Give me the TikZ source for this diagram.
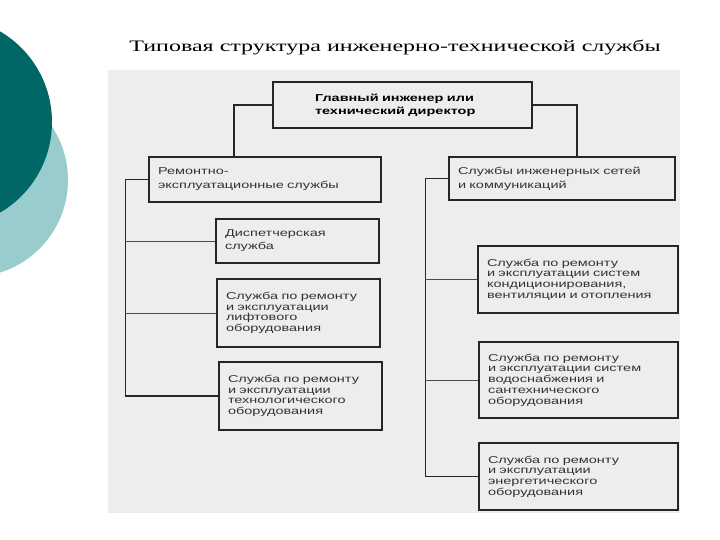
\documentclass[tikz,border=0pt]{standalone}
\usepackage{fontspec}
\setmainfont{Liberation Serif}
\newfontfamily\titlefont[FakeStretch=1.5]{Liberation Serif}
\newfontfamily\unitfont[FakeStretch=1.45]{Liberation Sans}
\usepackage{xcolor}
\usetikzlibrary{positioning}
\definecolor{darkteal}{RGB}{0,102,102}
\definecolor{lightteal}{RGB}{153,204,204}
\definecolor{scan}{RGB}{237,237,237}

\begin{document}
\begin{tikzpicture}[x=1pt, y=-1pt,
  every node/.style={inner sep=0pt},
  unit/.style={draw=black!85, line width=1.5pt, fill=scan, inner xsep=9pt, align=left,
    font=\unitfont\fontsize{10}{10.7}\selectfont, text=black!80},
  wide/.style={font=\unitfont\fontsize{10}{14}\selectfont},
  link/.style={line width=1.5pt, black!85},
  stub/.style={line width=0.8pt, black!70}]
  \useasboundingbox (0,0) rectangle (720,540);
  \clip (0,0) rectangle (720,540);
  % circles on the left
  \fill[lightteal] (-29,180) circle[radius=97pt];
  \fill[darkteal] (-53,122) circle[radius=105pt];
  % scanned page
  \fill[scan] (108,70) rectangle (680,513);
  \node (title) at (395,48) {\titlefont\fontsize{16}{19}\selectfont Типовая структура инженерно-технической службы};

  \node[unit, font=\unitfont\bfseries\fontsize{10}{13}\selectfont, text=black, inner xsep=42pt, text width=175pt, minimum width=259pt, minimum height=46pt] (chief) at (402.5,105) {Главный инженер или\\технический директор};
  \node[unit, wide, text width=214pt, minimum width=232pt, minimum height=45pt] (rem) at (265,179.5) {Ремонтно-\\эксплуатационные службы};
  \node[unit, wide, text width=208pt, minimum width=226pt, minimum height=43pt] (net) at (562,178.5) {Службы инженерных сетей\\и коммуникаций};

  \node[unit, font=\unitfont\fontsize{10}{13}\selectfont, text width=145pt, minimum width=163pt, minimum height=44pt] (disp) at (297.5,241) {Диспетчерская\\служба};
  \node[unit, text width=145pt, minimum width=163pt, minimum height=68pt] (lift) at (298.5,313) {Служба по ремонту\\и эксплуатации\\лифтового\\оборудования};
  \node[unit, text width=145pt, minimum width=163pt, minimum height=68pt] (tech) at (300.5,396) {Служба по ремонту\\и эксплуатации\\технологического\\оборудования};

  \node[unit, text width=182pt, minimum width=200pt, minimum height=67pt] (cond) at (578,279.5) {Служба по ремонту\\и эксплуатации систем\\кондиционирования,\\вентиляции и отопления};
  \node[unit, text width=181pt, minimum width=199pt, minimum height=76pt] (water) at (578.5,380) {Служба по ремонту\\и эксплуатации систем\\водоснабжения и\\сантехнического\\оборудования};
  \node[unit, text width=181pt, minimum width=199pt, minimum height=67pt] (energy) at (578.5,476.5) {Служба по ремонту\\и эксплуатации\\энергетического\\оборудования};

  % from the chief
  \draw[link] (chief.west) -| ([xshift=-31pt]rem.north);
  \draw[link] (chief.east) -| ([xshift=15pt]net.north);
  % left branch
  \coordinate (lbus) at ([xshift=-23pt]rem.west);
  \draw[link] (rem.west) -- (lbus) |- (tech.west);
  \draw[stub] (lbus |- disp.west) -- (disp.west);
  \draw[stub] (lbus |- lift.west) -- (lift.west);
  % right branch
  \coordinate (rbus) at ([xshift=-23pt]net.west);
  \draw[link] (net.west) -- (rbus) |- (energy.west);
  \draw[stub] (rbus |- cond.west) -- (cond.west);
  \draw[stub] (rbus |- water.west) -- (water.west);
\end{tikzpicture}
\end{document}
